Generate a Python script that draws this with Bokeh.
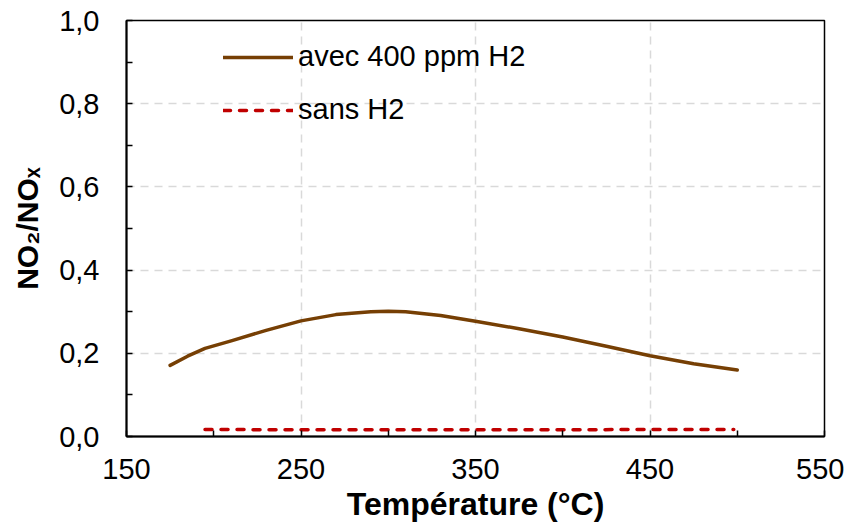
from bokeh.plotting import figure
from bokeh.models import (Range1d, FixedTicker, CustomJSTickFormatter, Legend, LegendItem)
from bokeh.embed import file_html
from bokeh.resources import INLINE

# ---- data ----
temp_h2 = [175, 185, 195, 210, 230, 250, 270, 290, 300, 310, 330, 350, 375, 400, 425, 450, 475, 500]
no2_h2 = [0.171, 0.193, 0.212, 0.230, 0.255, 0.278, 0.293, 0.300, 0.301, 0.300, 0.291, 0.277,
          0.259, 0.239, 0.217, 0.194, 0.175, 0.160]

temp_sans = [195, 250, 300, 350, 400, 450, 498]
no2_sans = [0.017, 0.016, 0.016, 0.016, 0.016, 0.017, 0.017]

x_major = [150, 250, 350, 450, 550]
x_minor = [200, 300, 400, 500]
y_major = [0.0, 0.2, 0.4, 0.6, 0.8, 1.0]
y_minor = [0.1, 0.3, 0.5, 0.7, 0.9]

label_h2 = "avec 400 ppm H2"
label_sans = "sans H2"
x_title = "Température (°C)"
y_title = "NO₂/NOₓ"

FONT = "Liberation Sans"
BROWN = "#763F04"
RED = "#C00000"

p = figure(frame_width=698, frame_height=416,
           x_range=Range1d(150, 550), y_range=Range1d(0, 1),
           output_backend="svg", toolbar_location=None,
           min_border_left=126, min_border_right=20,
           min_border_top=20, min_border_bottom=86)

p.background_fill_color = "white"
p.border_fill_color = "white"
p.outline_line_color = "black"
p.outline_line_width = 1.5

# axes
for ax in (p.xaxis[0], p.yaxis[0]):
    ax.axis_line_color = "black"
    ax.axis_line_width = 2
    ax.major_tick_in = 6
    ax.major_tick_out = 0
    ax.minor_tick_in = 6
    ax.minor_tick_out = 0
    ax.major_tick_line_color = "black"
    ax.minor_tick_line_color = "black"
    ax.major_tick_line_width = 1.5
    ax.minor_tick_line_width = 1.5
    ax.major_label_text_font = FONT
    ax.major_label_text_font_size = "29px"
    ax.major_label_text_color = "black"
    ax.axis_label_text_font = FONT
    ax.axis_label_text_font_style = "bold"
    ax.axis_label_text_color = "black"

p.xaxis.axis_label_text_font_size = "32px"
p.yaxis.axis_label_text_font_size = "30px"

p.xaxis.ticker = FixedTicker(ticks=x_major, minor_ticks=x_minor)
p.yaxis.ticker = FixedTicker(ticks=y_major, minor_ticks=y_minor)
p.yaxis.formatter = CustomJSTickFormatter(code="return tick.toFixed(1).replace('.', ',');")
p.xaxis.major_label_standoff = 22
p.yaxis.major_label_standoff = 27
p.xaxis.axis_label = x_title
p.yaxis.axis_label = y_title
p.xaxis.axis_label_standoff = 4
p.yaxis.axis_label_standoff = 12

# grid
for g in (p.xgrid[0], p.ygrid[0]):
    g.grid_line_color = "#D9D9D9"
    g.grid_line_width = 1.5
    g.grid_line_dash = "8 6"

# data lines
r_h2 = p.line(temp_h2, no2_h2, line_color=BROWN, line_width=3.5, line_join="round", line_cap="round")
r_sans = p.line(temp_sans, no2_sans, line_color=RED, line_width=3.5, line_dash="7 9", line_cap="round")

legend = Legend(items=[LegendItem(label=label_h2, renderers=[r_h2]),
                       LegendItem(label=label_sans, renderers=[r_sans])],
                location=(97, 310))
legend.background_fill_alpha = 0
legend.border_line_alpha = 0
legend.padding = 0
legend.margin = 0
legend.spacing = 20
legend.glyph_width = 70
legend.glyph_height = 32
legend.label_height = 32
legend.label_standoff = 5
legend.label_text_font = FONT
legend.label_text_font_size = "29px"
legend.label_text_color = "black"
p.add_layout(legend)

open("out.html", "w").write(file_html(p, INLINE))
